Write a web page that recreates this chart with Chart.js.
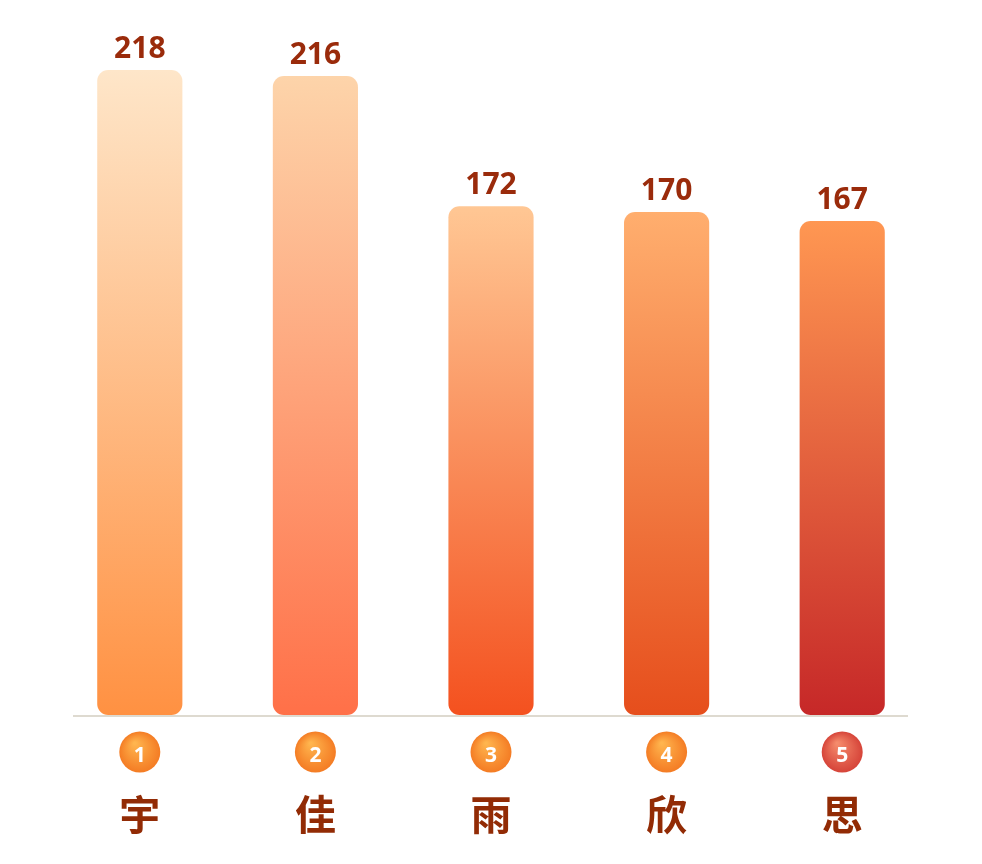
<!DOCTYPE html>
<html>
<head>
<meta charset="utf-8">
<script src="https://cdn.jsdelivr.net/npm/chart.js@4/dist/chart.umd.min.js"></script>
<style>
  html, body { margin: 0; padding: 0; background: #ffffff; }
  #wrap { width: 982px; height: 864px; position: relative; }
</style>
</head>
<body>
<div id="wrap"><canvas id="c"></canvas></div>
<script>
const categories = ['宇', '佳', '雨', '欣', '思'];
const values = [218, 216, 172, 170, 167];
const ranks = ['1', '2', '3', '4', '5'];

const topColors = ['#FEE6C9', '#FDD4AA', '#FFC794', '#FFAE6E', '#FF9752'];
const bottomColors = ['#FF9142', '#FF7048', '#F4511F', '#E64E1C', '#C62828'];
const badgeInner = ['#FFB54E', '#FFB54E', '#FFB54E', '#FFB54E', '#F58B6C'];
const badgeOuter = ['#F47C24', '#F47C24', '#F47C24', '#F47C24', '#D64439'];

function barGradient(ctx) {
  const chart = ctx.chart;
  const area = chart.chartArea;
  if (!area || ctx.dataIndex === undefined) return bottomColors[0];
  const ys = chart.scales.y;
  const i = ctx.dataIndex;
  const top = ys.getPixelForValue(values[i]);
  const bottom = ys.getPixelForValue(0);
  const g = chart.ctx.createLinearGradient(0, top, 0, bottom);
  g.addColorStop(0, topColors[i]);
  g.addColorStop(1, bottomColors[i]);
  return g;
}

const decor = {
  id: 'decor',
  beforeDatasetsDraw(chart) {
    const c = chart.ctx;
    const y0 = chart.scales.y.getPixelForValue(0);
    c.save();
    c.strokeStyle = '#DEDAD0';
    c.lineWidth = 2;
    c.beginPath();
    c.moveTo(73, y0 + 1);
    c.lineTo(908, y0 + 1);
    c.stroke();
    c.restore();
  },
  afterDatasetsDraw(chart) {
    const c = chart.ctx;
    const meta = chart.getDatasetMeta(0);
    const y0 = chart.scales.y.getPixelForValue(0);
    c.save();
    meta.data.forEach((bar, i) => {
      c.fillStyle = '#9A2B0B';
      c.font = 'bold 30px "Open Sans", "Noto Sans", sans-serif';
      c.textAlign = 'center';
      c.textBaseline = 'alphabetic';
      c.fillText(String(values[i]), bar.x, bar.y - 12);
      const cx = bar.x, cy = y0 + 37, r = 20.5;
      const g = c.createRadialGradient(cx - 5, cy - 9, 1, cx, cy, r);
      g.addColorStop(0, badgeInner[i]);
      g.addColorStop(1, badgeOuter[i]);
      c.fillStyle = g;
      c.beginPath();
      c.arc(cx, cy, r, 0, Math.PI * 2);
      c.fill();
      c.fillStyle = '#FFFFFF';
      c.font = 'bold 21px "Open Sans", "Noto Sans", sans-serif';
      c.textBaseline = 'middle';
      c.fillText(ranks[i], cx, cy + 4);
    });
    c.restore();
  }
};

new Chart(document.getElementById('c'), {
  type: 'bar',
  data: {
    labels: categories,
    datasets: [{
      data: values,
      backgroundColor: barGradient,
      borderRadius: 11,
      borderSkipped: false,
      barPercentage: 0.485,
      categoryPercentage: 1
    }]
  },
  options: {
    responsive: true,
    maintainAspectRatio: false,
    animation: false,
    devicePixelRatio: 1,
    layout: { padding: { left: 52, right: 52, top: 5, bottom: 25 } },
    plugins: { legend: { display: false }, tooltip: { enabled: false } },
    scales: {
      x: {
        grid: { display: false, drawTicks: false },
        border: { display: false },
        afterFit(scale) { scale.height = 124; },
        ticks: {
          padding: 75,
          color: '#922B05',
          font: { family: '"Noto Sans CJK SC", sans-serif', size: 41, weight: 'bold' }
        }
      },
      y: {
        display: false,
        min: 0,
        max: 240
      }
    }
  },
  plugins: [decor]
});
</script>
</body>
</html>
